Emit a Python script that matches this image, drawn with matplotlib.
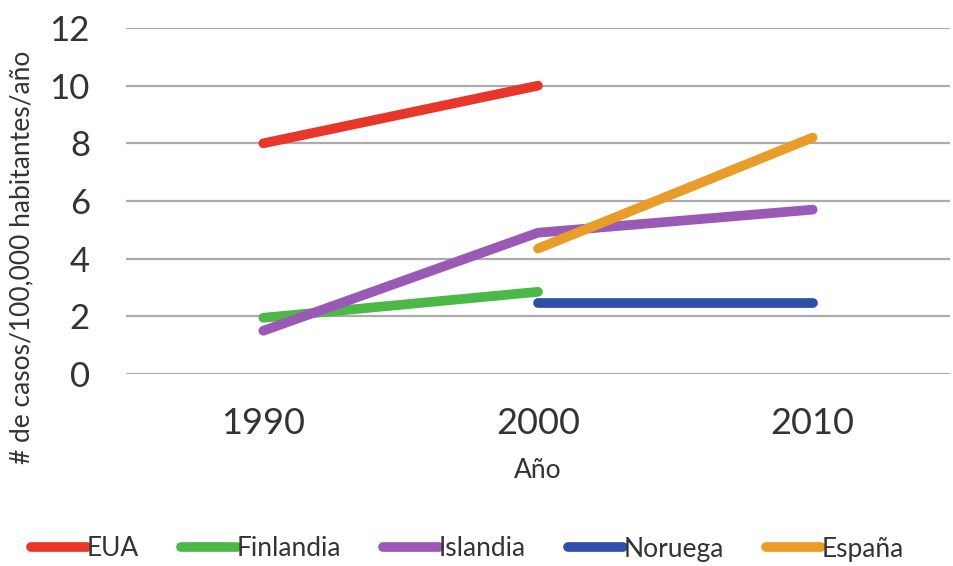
import matplotlib
matplotlib.use("Agg")
import matplotlib.pyplot as plt
import numpy as np

years = ["1990", "2000", "2010"]
eua = [8.0, 10.0, None]
finlandia = [1.95, 2.85, None]
islandia = [1.5, 4.9, 5.7]
noruega = [None, 2.45, 2.45]
espana = [None, 4.35, 8.2]

series = [
    ("EUA", eua, "#e8362a"),
    ("Finlandia", finlandia, "#4cb848"),
    ("Islandia", islandia, "#9b59b6"),
    ("Noruega", noruega, "#2e4ea8"),
    ("España", espana, "#e89d28"),
]

plt.rcParams['font.family'] = ['Lato', 'DejaVu Sans']

fig = plt.figure(figsize=(9.54, 5.66), dpi=100)
ax = fig.add_axes([126/954, 1 - 374/566, 824/954, 346/566])

x = np.arange(len(years))
for name, vals, color in series:
    y = np.array([np.nan if v is None else v for v in vals], dtype=float)
    ax.plot(x, y, color=color, lw=7, solid_capstyle='round', label=name)

ax.set_ylim(0, 12)
ax.set_yticks(range(0, 13, 2))
ax.set_xlim(-0.5, 2.5)
ax.set_xticks(x)
ax.set_xticklabels(years)
ax.grid(axis='y', color='#ababab', lw=1.6)
ax.set_axisbelow(True)
for s in ax.spines.values():
    s.set_visible(False)
ax.tick_params(axis='both', length=0, colors='#333333')
ax.tick_params(axis='y', labelsize=25, pad=26)
ax.tick_params(axis='x', labelsize=26, pad=24)
ax.set_xlabel("Año", fontsize=19, color='#333333', labelpad=13)
ax.set_ylabel("# de casos/100,000 habitantes/año", fontsize=19, color='#333333')
ax.yaxis.set_label_coords((34 - 126) / 824, (374 - 257) / 346)

leg = fig.legend(loc='center', bbox_to_anchor=(0.49, 1 - 549/566), ncol=5, frameon=False,
                 fontsize=19, handlelength=2.1, handletextpad=0.0, columnspacing=1.6)
for line in leg.get_lines():
    line.set_linewidth(7)
    line.set_solid_capstyle('round')
for t in leg.get_texts():
    t.set_color('#333333')

fig.savefig("out.png", dpi=100)
